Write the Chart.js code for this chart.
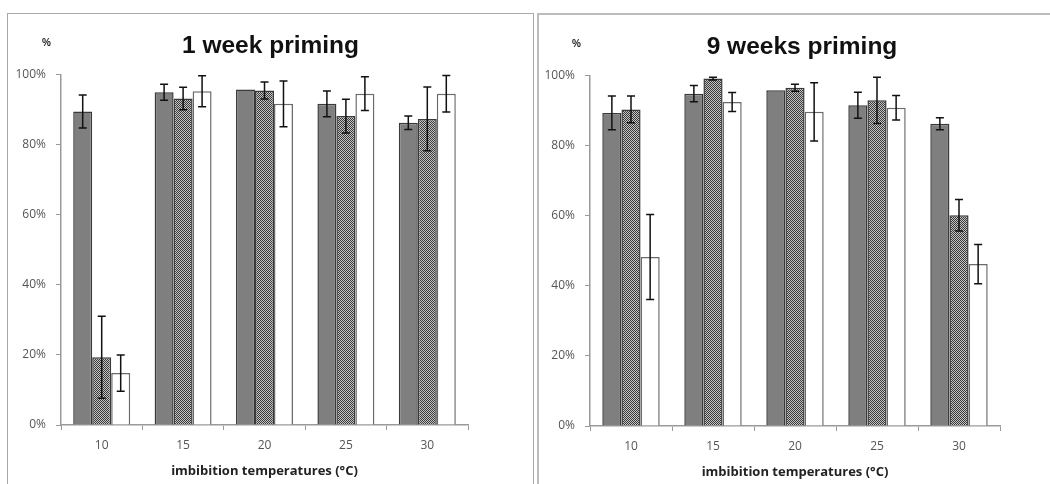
<!DOCTYPE html>
<html>
<head>
<meta charset="utf-8">
<script src="https://cdn.jsdelivr.net/npm/chart.js@4/dist/chart.umd.min.js"></script>
<style>
  body { margin: 0; background: #fff; width: 1050px; height: 484px; overflow: hidden; position: relative; }
  .panel { position: absolute; top: 13px; height: 490px; background: #fff; }
  #p1 { left: 7px; width: 525px; border: 1px solid #a8a8a8; }
  #p2 { left: 537px; width: 540px; border: 2px solid #bdbdbd; }
  .panel canvas { position: absolute; left: 0; top: 0; }
  .pct { position: absolute; top: 23px; font: bold 10px "Liberation Sans", Arial, sans-serif; color: #222; }
</style>
</head>
<body>
<div class="panel" id="p1"><canvas id="c1" width="525" height="471"></canvas><span class="pct" style="left:34px">%</span></div>
<div class="panel" id="p2"><canvas id="c2" width="526" height="471"></canvas><span class="pct" style="left:33px">%</span></div>
<script>
let temps = ['10', '15', '20', '25', '30']

// 1 week priming
let week1Dark = [89.4, 94.9, 95.7, 91.6, 86.2]
let week1DarkErr = [4.7, 2.3, 0, 3.7, 1.9]
let week1Dotted = [19.3, 93.1, 95.4, 88.1, 87.3]
let week1DottedErr = [11.7, 3.2, 2.4, 4.8, 9.1]
let week1White = [14.8, 95.2, 91.6, 94.5, 94.5]
let week1WhiteErr = [5.2, 4.4, 6.5, 4.8, 5.2]

// 9 weeks priming
let week9Dark = [89.3, 94.8, 95.8, 91.5, 86.2]
let week9DarkErr = [4.8, 2.3, 0, 3.7, 1.7]
let week9Dotted = [90.3, 99.1, 96.5, 92.9, 60.1]
let week9DottedErr = [3.8, 0.4, 1.0, 6.6, 4.5]
let week9White = [48.2, 92.4, 89.6, 90.8, 46.2]
let week9WhiteErr = [12.1, 2.7, 8.3, 3.5, 5.6]

let yTicks = [0, 20, 40, 60, 80, 100]

// fine dotted fill like the original
function dotPattern() {
    let pc = document.createElement('canvas')
    pc.width = 2
    pc.height = 2
    let g = pc.getContext('2d')
    g.fillStyle = '#c4c4c4'
    g.fillRect(0, 0, 2, 2)
    g.fillStyle = '#3a3a3a'
    g.fillRect(0, 0, 1, 1)
    g.fillRect(1, 1, 1, 1)
    return g.createPattern(pc, 'repeat')
}

let errorBars = {
    id: 'errorBars',
    afterDatasetsDraw(chart) {
        let ctx = chart.ctx
        let y = chart.scales.y
        ctx.save()
        ctx.strokeStyle = '#111'
        ctx.lineWidth = 1.5
        chart.data.datasets.forEach((ds, i) => {
            let meta = chart.getDatasetMeta(i)
            meta.data.forEach((bar, j) => {
                let v = ds.data[j]
                let e = ds.errors[j]
                if (!e) return
                let top = y.getPixelForValue(v + e)
                let bot = y.getPixelForValue(v - e)
                ctx.beginPath()
                ctx.moveTo(bar.x, top)
                ctx.lineTo(bar.x, bot)
                ctx.moveTo(bar.x - 4, top)
                ctx.lineTo(bar.x + 4, top)
                ctx.moveTo(bar.x - 4, bot)
                ctx.lineTo(bar.x + 4, bot)
                ctx.stroke()
            })
        })
        ctx.restore()
    },
}

function makeChart(id, title, dark, darkErr, dotted, dottedErr, white, whiteErr, axisWidth) {
    let tickFont = { family: '"Open Sans", sans-serif', size: 12 }
    return new Chart(document.getElementById(id).getContext('2d'), {
        type: 'bar',
        data: {
            labels: temps,
            datasets: [
                { data: dark, errors: darkErr, backgroundColor: '#7f7f7f', borderColor: '#3a3a3a', borderWidth: 1.5 },
                { data: dotted, errors: dottedErr, backgroundColor: dotPattern(), borderColor: '#3a3a3a', borderWidth: 1.5 },
                { data: white, errors: whiteErr, backgroundColor: '#ffffff', borderColor: '#6a6a6a', borderWidth: 1.5 },
            ],
        },
        options: {
            responsive: false,
            animation: false,
            layout: { padding: { top: 18, right: 0, bottom: 6, left: 0 } },
            plugins: {
                legend: { display: false },
                tooltip: { enabled: false },
                title: {
                    display: true,
                    text: title,
                    color: '#111',
                    font: { family: '"Liberation Sans", Arial, sans-serif', size: 24.5, weight: 'bold' },
                    padding: { top: 0, bottom: 13 },
                },
            },
            datasets: { bar: { categoryPercentage: 0.7, barPercentage: 1.0 } },
            scales: {
                x: {
                    grid: { display: true, drawOnChartArea: false, drawTicks: true, tickLength: 5, color: '#9a9a9a' },
                    border: { color: '#9a9a9a', width: 1.5 },
                    ticks: { color: '#555', font: tickFont, padding: 8 },
                    title: {
                        display: true,
                        text: 'imbibition temperatures (°C)',
                        color: '#222',
                        font: { family: '"Open Sans", sans-serif', size: 13, weight: 'bold' },
                        padding: { top: 3, bottom: 0 },
                    },
                },
                y: {
                    min: 0,
                    max: 100,
                    afterFit: (scale) => { scale.width = axisWidth },
                    afterBuildTicks: (scale) => { scale.ticks = yTicks.map(v => ({ value: v })) },
                    grid: { display: true, drawOnChartArea: false, drawTicks: true, tickLength: 5, color: '#9a9a9a' },
                    border: { color: '#9a9a9a', width: 1.5 },
                    ticks: { color: '#555', font: tickFont, padding: 10, callback: (v) => v + '%' },
                },
                // empty spacer on the right so the title stays centred on the whole panel
                spacer: {
                    type: 'linear',
                    position: 'right',
                    afterFit: (scale) => { scale.width = 65 },
                    grid: { display: false },
                    border: { display: false },
                    ticks: { display: false },
                },
            },
        },
        plugins: [errorBars],
    })
}

makeChart('c1', '1 week priming', week1Dark, week1DarkErr, week1Dotted, week1DottedErr, week1White, week1WhiteErr, 53)
makeChart('c2', '9 weeks priming', week9Dark, week9DarkErr, week9Dotted, week9DottedErr, week9White, week9WhiteErr, 51)
</script>
</body>
</html>
